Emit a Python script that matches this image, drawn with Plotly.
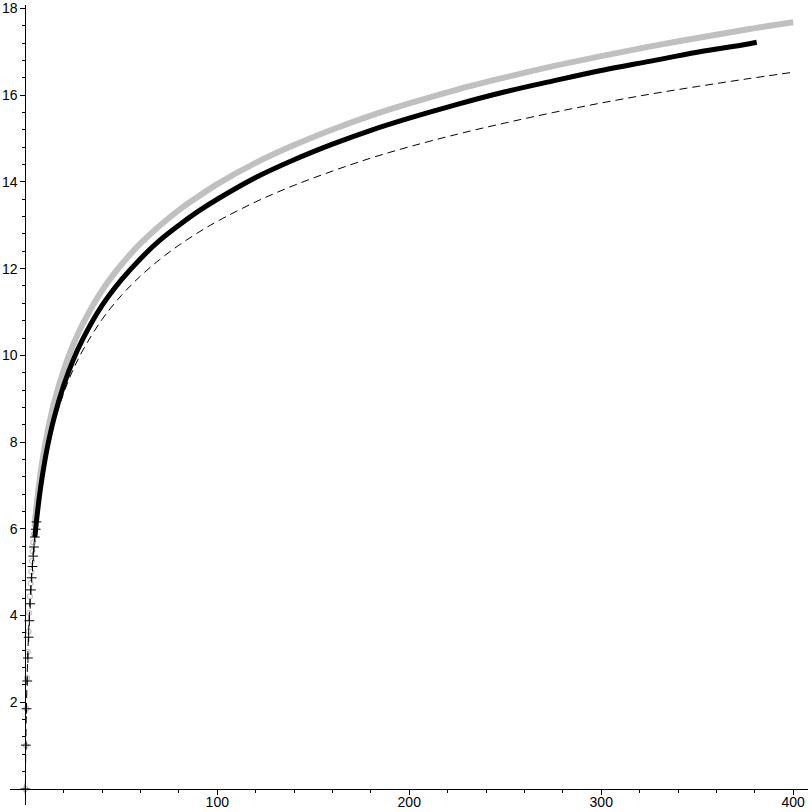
import plotly.graph_objects as go

# ---- data ----
# gray series (open circles, dense -> thick band)
gray_pts_x = [0, 0.3, 0.6, 0.9, 1.3, 1.65, 2.0, 2.4, 2.75, 3.1, 3.45, 3.8, 4.15, 4.5, 4.9, 5.3, 5.7, 6.1]
gray_pts_y = [0.0, 1.0, 1.85, 2.56, 3.16, 3.63, 4.06, 4.44, 4.74, 5.01, 5.26, 5.48, 5.69, 5.88, 6.09, 6.28, 6.46, 6.62]
gray_x = [5, 6, 8, 10, 12, 15, 20, 25, 30, 40, 50, 60, 70, 80, 90, 100, 120, 140, 160, 180,
          200, 225, 250, 275, 300, 325, 350, 375, 400]
gray_y = [6.12, 6.58, 7.30, 7.87, 8.33, 8.91, 9.66, 10.25, 10.73, 11.50, 12.09, 12.58, 12.99, 13.35,
          13.66, 13.95, 14.44, 14.85, 15.21, 15.53, 15.81, 16.13, 16.41, 16.67, 16.90, 17.12, 17.32,
          17.51, 17.68]

# black series (crosses, dense -> thick band), ends near x=381
black_pts_x = [0, 0.3, 0.65, 1.0, 1.36, 1.75, 2.12, 2.55, 2.95, 3.35, 3.75, 4.15, 4.55, 5.0, 5.4, 5.8]
black_pts_y = [0.0, 1.01, 1.85, 2.49, 3.02, 3.50, 3.88, 4.27, 4.59, 4.87, 5.13, 5.37, 5.58, 5.81, 5.99, 6.16]
black_x = [5, 6, 8, 10, 12, 15, 20, 25, 30, 40, 50, 60, 70, 80, 90, 100, 120, 140, 160, 180,
           200, 225, 250, 275, 300, 325, 350, 375, 381]
black_y = [5.81, 6.25, 6.96, 7.52, 7.99, 8.56, 9.31, 9.90, 10.38, 11.15, 11.74, 12.23, 12.65, 13.00,
           13.32, 13.60, 14.10, 14.51, 14.87, 15.19, 15.47, 15.79, 16.08, 16.33, 16.57, 16.78, 16.99,
           17.17, 17.22]

# thin dashed black curve
dash_x = [0, 0.5, 1, 2, 3, 4, 5, 6, 8, 10, 12, 15, 20, 25, 30, 40, 50, 60, 70, 80, 90, 100,
          120, 140, 160, 180, 200, 225, 250, 275, 300, 325, 350, 375, 400]
dash_y = [0.0, 1.67, 2.66, 3.92, 4.75, 5.37, 5.86, 6.28, 6.95, 7.47, 7.90, 8.44, 9.13, 9.68, 10.12,
          10.83, 11.38, 11.83, 12.21, 12.54, 12.83, 13.09, 13.54, 13.92, 14.25, 14.55, 14.81, 15.10,
          15.36, 15.60, 15.82, 16.02, 16.20, 16.37, 16.53]

x_ticks = [100, 200, 300, 400]
x_tick_labels = ["100", "200", "300", "400"]
y_ticks = [2, 4, 6, 8, 10, 12, 14, 16, 18]
y_tick_labels = ["2", "4", "6", "8", "10", "12", "14", "16", "18"]

# ---- figure ----
GRAY = "#c0c0c0"
fig = go.Figure()

fig.add_trace(go.Scatter(x=gray_x, y=gray_y, mode="lines",
                         line=dict(color=GRAY, width=6, shape="spline"), hoverinfo="skip"))
fig.add_trace(go.Scatter(x=gray_pts_x, y=gray_pts_y, mode="markers",
                         marker=dict(symbol="circle-open", size=5, color=GRAY,
                                     line=dict(width=1.2, color=GRAY)), hoverinfo="skip"))
fig.add_trace(go.Scatter(x=black_x, y=black_y, mode="lines",
                         line=dict(color="black", width=5, shape="spline"), hoverinfo="skip"))
fig.add_trace(go.Scatter(x=black_pts_x, y=black_pts_y, mode="markers",
                         marker=dict(symbol="cross-thin-open", size=7, color="black",
                                     line=dict(width=1, color="black")), hoverinfo="skip"))
fig.add_trace(go.Scatter(x=dash_x, y=dash_y, mode="lines",
                         line=dict(color="black", width=1, dash="8px,5px", shape="spline"),
                         hoverinfo="skip"))

x_range = [-7.97, 407.7]
y_range = [-0.37, 18.08]
x_minor = [v for v in range(20, 401, 20) if v % 100 != 0]
y_minor = [round(0.4 * k, 2) for k in range(1, 46) if k % 5 != 0]

font = dict(family="Liberation Sans, Arial, sans-serif", size=14, color="black")

fig.update_layout(
    width=812, height=812,
    margin=dict(l=10, r=4, t=5, b=7),
    template="none",
    plot_bgcolor="white", paper_bgcolor="white",
    showlegend=False,
    font=font,
    xaxis=dict(range=x_range, showgrid=False, zeroline=False, showline=True,
               linecolor="black", linewidth=1, anchor="free",
               position=(0 - y_range[0]) / (y_range[1] - y_range[0]),
               tickmode="array", tickvals=x_ticks, ticktext=x_tick_labels,
               ticks="outside", ticklen=5, tickcolor="black", tickwidth=1,
               tickfont=font, automargin=False, ticklabelstandoff=-5,
               minor=dict(tickvals=x_minor, ticks="outside", ticklen=3,
                          tickcolor="black", tickwidth=1, showgrid=False)),
    yaxis=dict(range=y_range, showgrid=False, zeroline=False, showline=True,
               linecolor="black", linewidth=1, anchor="free",
               position=(0 - x_range[0]) / (x_range[1] - x_range[0]),
               tickmode="array", tickvals=y_ticks, ticktext=y_tick_labels,
               ticks="outside", ticklen=5, tickcolor="black", tickwidth=1,
               tickfont=font, automargin=False,
               minor=dict(tickvals=y_minor, ticks="outside", ticklen=3,
                          tickcolor="black", tickwidth=1, showgrid=False)),
)

fig.write_html("out.html", config={"displayModeBar": False},
               post_script="document.body.style.margin='0';document.body.style.padding='0';")
